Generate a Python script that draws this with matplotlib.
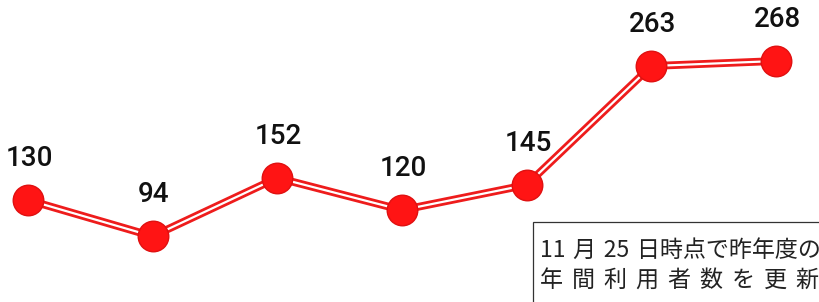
import matplotlib
matplotlib.use("Agg")
import matplotlib.pyplot as plt
from matplotlib.patches import Rectangle

values = [130, 94, 152, 120, 145, 263, 268]
labels = ["130", "94", "152", "120", "145", "263", "268"]
note_line1 = "11\u2004月\u200425\u2004日時点で昨年度の"
note_line2 = " \u2006".join("年間利用者数を更新")

W, H = 820, 302
fig = plt.figure(figsize=(W / 100, H / 100), dpi=100)
ax = fig.add_axes([0, 0, 1, 1])
ax.set_axis_off()

x = list(range(len(values)))
px_per_x = (776 - 28) / 6.0
px_per_y = (200 - 61) / (268 - 130)
ax.set_xlim(-28 / px_per_x, (W - 28) / px_per_x)
ax.set_ylim(130 - (H - 200) / px_per_y, 130 + 200 / px_per_y)

ax.plot(x, values, color="#ee1c1c", lw=5.6, solid_capstyle="butt", zorder=2)
ax.plot(x, values, color="white", lw=1.6, solid_capstyle="butt", zorder=3)
ax.plot(x, values, ls="none", marker="o", markersize=22,
        markerfacecolor="#ff1414", markeredgecolor="#e01010", markeredgewidth=1.0, zorder=4)

for xi, v, lab in zip(x, values, labels):
    ax.annotate(lab, (xi, v), xytext=(1, 30), textcoords="offset points",
                ha="center", va="center", fontsize=20,
                family=["Roboto", "DejaVu Sans"], fontweight="medium",
                color="#111111", zorder=5)

box = Rectangle((533 / W, -0.2), 0.5, (302 - 222) / H + 0.2, transform=fig.transFigure,
                facecolor="white", edgecolor="#333333", lw=0.9, zorder=6)
fig.patches.append(box)

fam = ["Noto Sans CJK JP", "DejaVu Sans"]
fig.text(540 / W, 1 - 257 / H, note_line1, fontsize=16.6, family=fam,
         color="#222222", ha="left", va="baseline", zorder=7)
fig.text(540 / W, 1 - 288 / H, note_line2, fontsize=16.6, family=fam,
         color="#222222", ha="left", va="baseline", zorder=7)

fig.savefig("out.png", dpi=100)
